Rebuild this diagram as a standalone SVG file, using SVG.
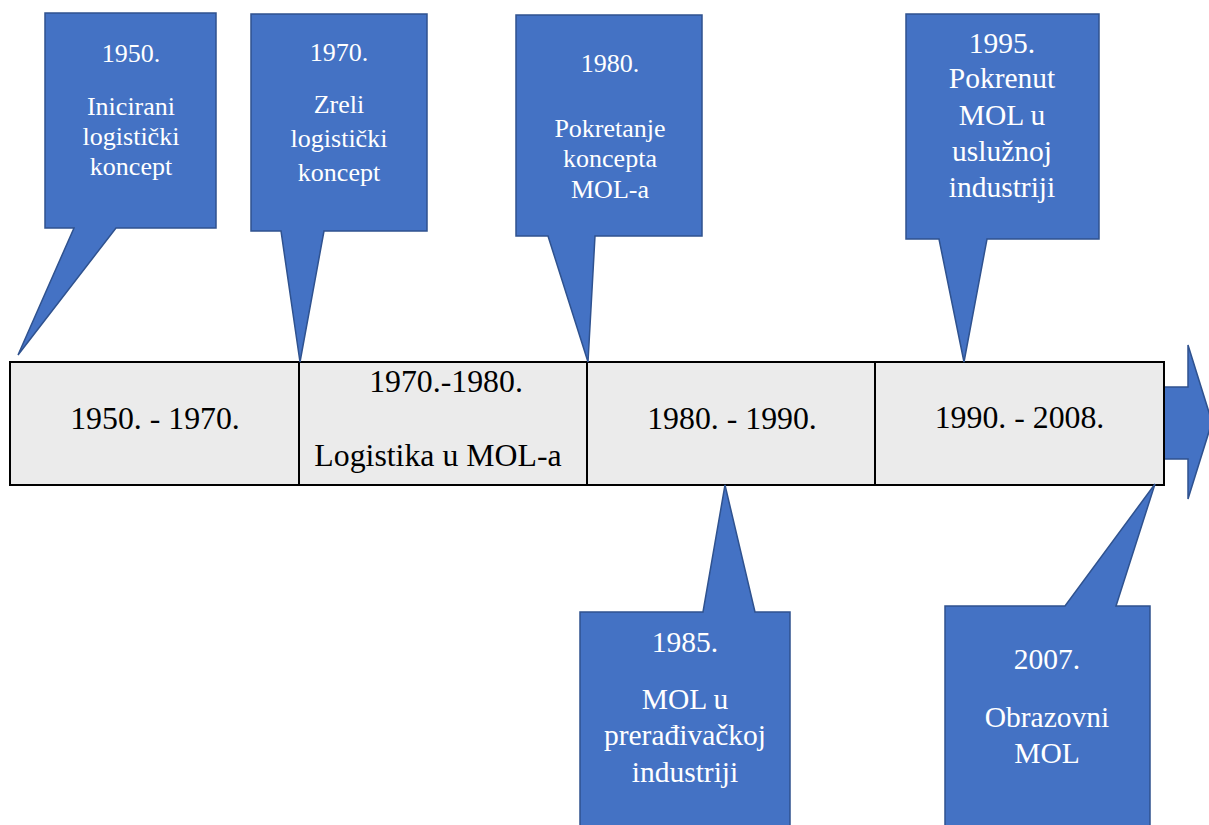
<svg xmlns="http://www.w3.org/2000/svg" width="1209" height="825" viewBox="0 0 1209 825">
<style>
.callout{fill:#4472C4;stroke:#2F528F;stroke-width:1.5;stroke-linejoin:miter}
.seg{fill:#EBEBEB;stroke:#000;stroke-width:2}
.ct{fill:#FFFFFF;text-anchor:middle}
.s26{font-size:26px}
.s29{font-size:29.5px}
.tt{font-size:31.8px;fill:#000;text-anchor:middle}
</style>
<rect width="1209" height="825" fill="#FFFFFF"/>
<g id="timeline-arrow">
<polygon class="callout" points="1164,387 1188,387 1188,345 1212,422 1188,499 1188,459 1164,459"/>
</g>
<g id="timeline" font-family="Liberation Serif, Times New Roman, serif">
<g id="seg-1950-1970">
<rect class="seg" x="10" y="362" width="289" height="123"/>
<text class="tt" x="155" y="429">1950. - 1970.</text>
</g>
<g id="seg-1970-1980">
<rect class="seg" x="299" y="362" width="288" height="123"/>
<text class="tt" x="446" y="392">1970.-1980.</text>
<text class="tt" x="438" y="466">Logistika u MOL-a</text>
</g>
<g id="seg-1980-1990">
<rect class="seg" x="587" y="362" width="288" height="123"/>
<text class="tt" x="732" y="429">1980. - 1990.</text>
</g>
<g id="seg-1990-2008">
<rect class="seg" x="875" y="362" width="289" height="123"/>
<text class="tt" x="1019.5" y="428">1990. - 2008.</text>
</g>
</g>
<g id="connectors"></g>
<g id="callouts" font-family="Liberation Serif, Times New Roman, serif">
<g id="callout-1950">
<path class="callout" d="M45,13 H216 V228 H116 L18,355 L74,228 H45 Z"/>
<text class="ct s26" x="131" y="62">1950.</text>
<text class="ct s26" x="131" y="115">Inicirani</text>
<text class="ct s26" x="131" y="145">logistički</text>
<text class="ct s26" x="131" y="175">koncept</text>
</g>
<g id="callout-1970">
<path class="callout" d="M251,14 H427 V231 H324 L300,362 L281,231 H251 Z"/>
<text class="ct s26" x="339" y="61">1970.</text>
<text class="ct s26" x="339" y="113">Zreli</text>
<text class="ct s26" x="339" y="147">logistički</text>
<text class="ct s26" x="339" y="181">koncept</text>
</g>
<g id="callout-1980">
<path class="callout" d="M516,15 H702 V236 H595 L588,362 L548,236 H516 Z"/>
<text class="ct s26" x="610" y="72">1980.</text>
<text class="ct s26" x="610" y="137">Pokretanje</text>
<text class="ct s26" x="610" y="167">koncepta</text>
<text class="ct s26" x="610" y="198">MOL-a</text>
</g>
<g id="callout-1995">
<path class="callout" d="M906,14 H1099 V239 H987 L964,362 L939,239 H906 Z"/>
<text class="ct s29" x="1002" y="53">1995.</text>
<text class="ct s29" x="1002" y="88">Pokrenut</text>
<text class="ct s29" x="1002" y="125">MOL u</text>
<text class="ct s29" x="1002" y="161">uslužnoj</text>
<text class="ct s29" x="1002" y="197">industriji</text>
</g>
<g id="callout-1985">
<path class="callout" d="M580,612 H703 L725,485 L755,612 H790 V832 H580 Z"/>
<text class="ct s29" x="685" y="652">1985.</text>
<text class="ct s29" x="685" y="709">MOL u</text>
<text class="ct s29" x="685" y="745">prerađivačkoj</text>
<text class="ct s29" x="685" y="782">industriji</text>
</g>
<g id="callout-2007">
<path class="callout" d="M945,606 H1065 L1155,484 L1116,606 H1150 V832 H945 Z"/>
<text class="ct s29" x="1047" y="669">2007.</text>
<text class="ct s29" x="1047" y="727">Obrazovni</text>
<text class="ct s29" x="1047" y="763">MOL</text>
</g>
</g>
</svg>
